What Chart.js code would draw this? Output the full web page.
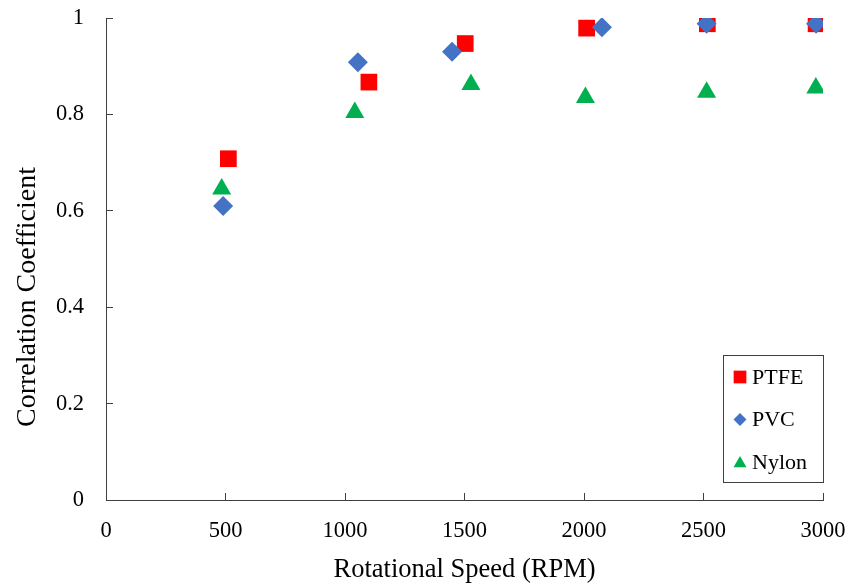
<!DOCTYPE html>
<html>
<head>
<meta charset="utf-8">
<script src="https://cdn.jsdelivr.net/npm/chart.js@4/dist/chart.umd.min.js"></script>
<style>
  html, body { margin: 0; padding: 0; background: #fff; }
  #wrap { width: 850px; height: 586px; }
</style>
</head>
<body>
<div id="wrap"><canvas id="myChart" width="850" height="586"></canvas></div>
<script>
// values
var ptfeX  = [512, 1100, 1503, 2011, 2516, 2971];
var ptfeY  = [0.708, 0.867, 0.947, 0.979, 0.988, 0.988];
var pvcX   = [490, 1054, 1448, 2075, 2513, 2971];
var pvcY   = [0.610, 0.908, 0.930, 0.981, 0.988, 0.988];
var nylonX = [484, 1041, 1527, 2006, 2513, 2970];
var nylonY = [0.645, 0.804, 0.862, 0.835, 0.846, 0.855];

var seriesNames = ["PTFE", "PVC", "Nylon"];
var xTicks = [0, 500, 1000, 1500, 2000, 2500, 3000];
var yTicks = [0, 0.2, 0.4, 0.6, 0.8, 1];
var xTitle = "Rotational Speed (RPM)";
var yTitle = "Correlation Coefficient";

var serif = "'Liberation Serif', 'Times New Roman', serif";
var axisColor = "#404040";

function points(xs, ys) {
    var out = [];
    for (let i = 0; i < xs.length; i++) {
        out.push({x: xs[i], y: ys[i]});
    }
    return out;
}

function drawMarker(ctx, style, x, y, r, color) {
    ctx.save();
    ctx.fillStyle = color;
    ctx.beginPath();
    if (style == "rect") {
        var s = r * Math.SQRT1_2;
        ctx.rect(x - s, y - s, 2 * s, 2 * s);
    } else if (style == "rectRot") {
        ctx.moveTo(x, y - r);
        ctx.lineTo(x + r, y);
        ctx.lineTo(x, y + r);
        ctx.lineTo(x - r, y);
        ctx.closePath();
    } else {
        ctx.moveTo(x, y - r);
        ctx.lineTo(x + r * Math.cos(Math.PI / 6), y + r / 2);
        ctx.lineTo(x - r * Math.cos(Math.PI / 6), y + r / 2);
        ctx.closePath();
    }
    ctx.fill();
    ctx.restore();
}

// boxed legend in the lower right corner of the plot
var boxLegend = {
    id: "boxLegend",
    afterDraw: function(chart) {
        var ctx = chart.ctx;
        var area = chart.chartArea;
        var w = 100, h = 127;
        var left = area.right - w;
        var top = area.bottom - 18 - h;
        ctx.save();
        ctx.strokeStyle = axisColor;
        ctx.lineWidth = 1;
        ctx.strokeRect(Math.round(left) + 0.5, Math.round(top) + 0.5, w, h);
        ctx.font = "22px " + serif;
        ctx.fillStyle = "#000";
        ctx.textBaseline = "middle";
        ctx.textAlign = "left";
        var ds = chart.data.datasets;
        for (let i = 0; i < ds.length; i++) {
            var cy = top + 22 + i * 42.5;
            var r = ds[i].pointStyle == "rect" ? 9 : (ds[i].pointStyle == "rectRot" ? 6.5 : 7.5);
            drawMarker(ctx, ds[i].pointStyle, left + 17, cy + (ds[i].pointStyle == "triangle" ? 1.5 : 0), r, ds[i].backgroundColor);
            ctx.fillText(ds[i].label, left + 29, cy + 1);
        }
        ctx.restore();
    }
};

// y title sits a bit below the middle of the axis in the reference
var sideTitle = {
    id: "sideTitle",
    afterDraw: function(chart) {
        var ctx = chart.ctx;
        var area = chart.chartArea;
        ctx.save();
        ctx.translate(28, (area.top + area.bottom) / 2 + 38);
        ctx.rotate(-Math.PI / 2);
        ctx.font = "28px " + serif;
        ctx.fillStyle = "#000";
        ctx.textAlign = "center";
        ctx.textBaseline = "middle";
        ctx.fillText(yTitle, 0, 0);
        ctx.restore();
    }
};

// keep the plot box where the reference has it
function noOverhang(scale) {
    scale.paddingLeft = 0;
    scale.paddingRight = 0;
    scale.paddingTop = 0;
    scale.paddingBottom = 0;
}

new Chart("myChart", {
    type: "scatter",
    data: {
        datasets: [
            { label: seriesNames[0], data: points(ptfeX, ptfeY), pointStyle: "rect", pointRadius: 11.8,
              backgroundColor: "#FF0000", borderWidth: 0, order: 3 },
            { label: seriesNames[1], data: points(pvcX, pvcY), pointStyle: "rectRot", pointRadius: 10,
              backgroundColor: "#4472C4", borderWidth: 0, order: 2 },
            { label: seriesNames[2], data: points(nylonX, nylonY), pointStyle: "triangle", pointRadius: 11,
              backgroundColor: "#00B050", borderWidth: 0, order: 1 }
        ]
    },
    options: {
        responsive: false,
        animation: false,
        events: [],
        layout: { padding: { left: 0, right: 27, top: 18, bottom: 0 } },
        plugins: {
            legend: { display: false },
            tooltip: { enabled: false }
        },
        scales: {
            x: {
                type: "linear",
                min: 0,
                max: 3000,
                afterBuildTicks: function(scale) {
                    scale.ticks = xTicks.map(function(v) { return {value: v}; });
                },
                afterFit: function(scale) { scale.height = 86; noOverhang(scale); },
                grid: { display: true, drawOnChartArea: false, drawTicks: true, tickLength: -7,
                        color: axisColor, tickColor: axisColor, lineWidth: 1 },
                border: { display: true, color: axisColor, width: 1 },
                ticks: {
                    color: "#000",
                    padding: 25,
                    maxRotation: 0,
                    font: { family: serif, size: 22.5 },
                    callback: function(v) { return String(v); }
                },
                title: {
                    display: true,
                    text: xTitle,
                    color: "#000",
                    font: { family: serif, size: 26.5 },
                    padding: { top: 7, bottom: 0 }
                }
            },
            y: {
                type: "linear",
                min: 0,
                max: 1,
                afterBuildTicks: function(scale) {
                    scale.ticks = yTicks.map(function(v) { return {value: v}; });
                },
                afterFit: function(scale) { scale.width = 106; noOverhang(scale); },
                grid: { display: true, drawOnChartArea: false, drawTicks: true, tickLength: -7,
                        color: axisColor, tickColor: axisColor, lineWidth: 1 },
                border: { display: true, color: axisColor, width: 1 },
                ticks: {
                    color: "#000",
                    padding: 29,
                    font: { family: serif, size: 22.5 },
                    callback: function(v) { return String(v); }
                },
                title: { display: false }
            }
        }
    },
    plugins: [boxLegend, sideTitle]
});
</script>
</body>
</html>
